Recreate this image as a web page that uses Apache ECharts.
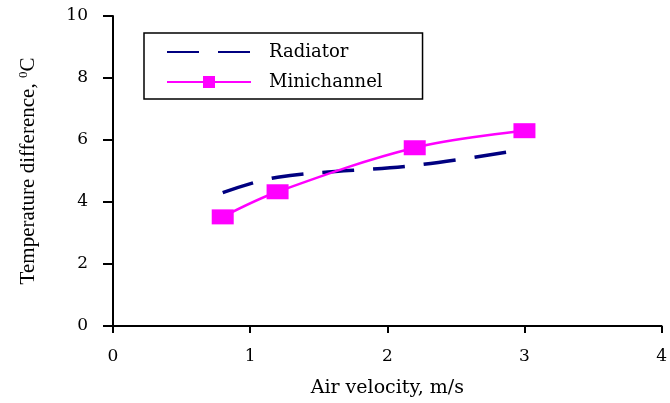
<!DOCTYPE html>
<html>
<head>
<meta charset="utf-8">
<script src="https://cdn.jsdelivr.net/npm/echarts@6/dist/echarts.min.js"></script>
<style>html,body{margin:0;padding:0;background:#fff}#c{width:670px;height:403px}</style>
</head>
<body>
<div id="c"></div>
<script>
const seriesNames = ['Radiator', 'Minichannel'];
const radiatorX = [0.8, 1.2, 2.2, 3.0];
const radiatorY = [4.3, 4.8, 5.18, 5.7];
const miniX = [0.8, 1.2, 2.2, 3.0];
const miniY = [3.52, 4.33, 5.75, 6.3];
const xTicks = { min: 0, max: 4, interval: 1 };
const yTicks = { min: 0, max: 10, interval: 2 };
const xName = 'Air velocity, m/s';
const yName = 'Temperature difference, ';

const chart = echarts.init(document.getElementById('c'));
const labelFont = { fontFamily: 'DejaVu Serif', fontSize: 17, color: '#000' };
chart.setOption({
  animation: false,
  backgroundColor: '#fff',
  grid: { left: 113, top: 16, right: 1, bottom: 75 },
  legend: {
    orient: 'vertical', left: 144, top: 33,
    data: [
      { name: seriesNames[0], itemStyle: { opacity: 0 } },
      { name: seriesNames[1] }
    ],
    borderColor: '#000', borderWidth: 1.5,
    padding: [10, 40, 8, 22],
    itemGap: 12, itemWidth: 84, itemHeight: 15,
    textStyle: { fontFamily: 'DejaVu Serif', fontSize: 18, color: '#000', padding: [0, 0, 0, 13] }
  },
  xAxis: {
    type: 'value', min: xTicks.min, max: xTicks.max, interval: xTicks.interval,
    name: xName, nameLocation: 'middle', nameGap: 53,
    nameTextStyle: { fontFamily: 'DejaVu Serif', fontSize: 19, color: '#000' },
    axisLine: { lineStyle: { color: '#000', width: 2 } },
    axisTick: { length: 7, lineStyle: { color: '#000', width: 2 } },
    axisLabel: Object.assign({ margin: 22 }, labelFont),
    splitLine: { show: false }
  },
  yAxis: {
    type: 'value', min: yTicks.min, max: yTicks.max, interval: yTicks.interval,
    name: yName + '{sup|0}C', nameLocation: 'middle', nameGap: 73, nameRotate: 90,
    nameTextStyle: {
      fontFamily: 'Liberation Serif', fontSize: 21, color: '#000',
      rich: { sup: { fontFamily: 'Liberation Serif', fontSize: 13, verticalAlign: 'top', padding: [0, 0, 10, 0] } }
    },
    axisLine: { show: true, lineStyle: { color: '#000', width: 2 } },
    axisTick: { show: true, length: 10, lineStyle: { color: '#000', width: 2 } },
    axisLabel: Object.assign({ margin: 25 }, labelFont),
    splitLine: { show: false }
  },
  series: [
    {
      name: seriesNames[0], type: 'line', smooth: 0.35, symbol: 'none',
      data: radiatorX.map((x, i) => [x, radiatorY[i]]),
      lineStyle: { color: '#000080', width: 3.5, type: [32, 19] },
      itemStyle: { color: '#000080' }
    },
    {
      name: seriesNames[1], type: 'line', smooth: 0.35, symbol: 'rect', symbolSize: [22, 15],
      data: miniX.map((x, i) => [x, miniY[i]]),
      lineStyle: { color: '#ff00ff', width: 2.5 },
      itemStyle: { color: '#ff00ff' }
    }
  ]
});
</script>
</body>
</html>
